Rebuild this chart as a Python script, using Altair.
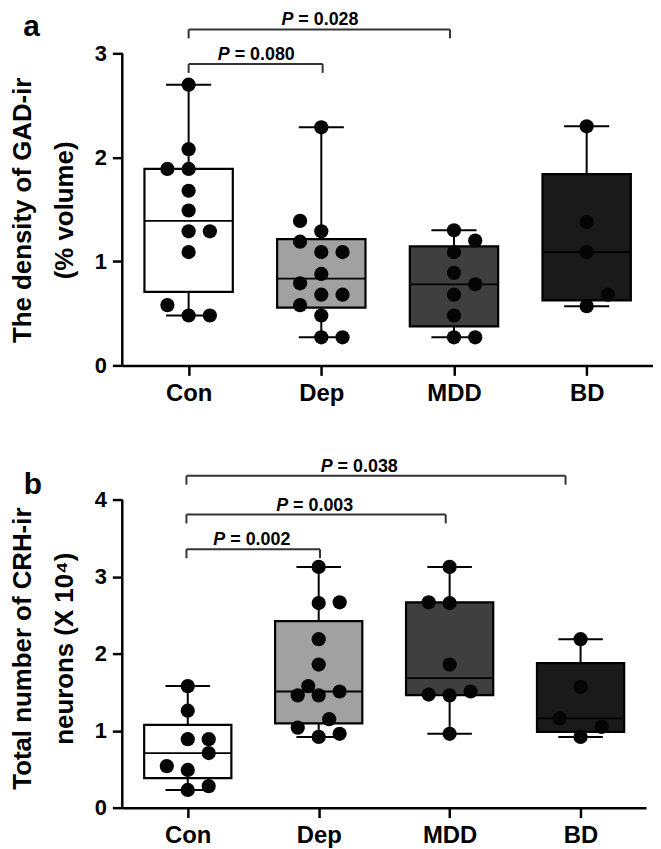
import altair as alt
import numpy as np
import pandas as pd

FONT = "Liberation Sans"

groups = ["Con", "Dep", "MDD", "BD"]
box_fills = ["#ffffff", "#a1a1a1", "#3f3f3f", "#1a1a1a"]

# ---------------- panel a : density of GAD-ir (% volume) ----------------
gad_con = [2.70, 2.08, 1.89, 1.89, 1.68, 1.49, 1.29, 1.29, 1.09, 0.58, 0.48, 0.48]
gad_con_col = [0, 0, -2, 0, 0, 0, 0, 2, 0, -2, 0, 2]
gad_dep = [2.29, 1.39, 1.29, 1.19, 1.09, 1.09, 0.88, 0.79, 0.68, 0.68, 0.58, 0.48, 0.27, 0.27]
gad_dep_col = [0, -2, 0, -2, 0, 2, 0, -2, 0, 2, -2, 0, 0, 2]
gad_mdd = [1.30, 1.20, 1.09, 0.89, 0.78, 0.68, 0.48, 0.27, 0.27]
gad_mdd_col = [0, 2, 0, 0, 2, 0, 0, 0, 2]
gad_bd = [2.30, 1.38, 1.09, 0.68, 0.57]
gad_bd_col = [0, 0, 0, 2, 0]

a_title = ["The density of  GAD-ir", "(% volume)"]
a_ticks = [0, 1, 2, 3]
a_p_labels = ["0.080", "0.028"]
a_p_from = [1.00, 1.00]
a_p_to = [2.01, 2.97]
a_p_level = [2.90, 3.232]
a_p_text_at = [1.51, 1.99]

# ---------------- panel b : CRH-ir neurons (x 10^4) ----------------
crh_con = [1.58, 1.26, 0.89, 0.89, 0.71, 0.54, 0.49, 0.28, 0.23]
crh_con_col = [0, 0, 0, 2, 2, -2, 0, 2, 0]
crh_dep = [3.13, 2.66, 2.67, 2.19, 1.86, 1.58, 1.46, 1.46, 1.51, 1.15, 1.04, 0.92, 0.96]
crh_dep_col = [0, 0, 2, 0, 0, -1, -2, 0, 2, 1, -2, 0, 2]
crh_mdd = [3.13, 2.67, 2.66, 1.86, 1.47, 1.46, 1.51, 0.96]
crh_mdd_col = [0, -2, 0, 0, -2, 0, 2, 0]
crh_bd = [2.19, 1.57, 1.16, 1.05, 0.92]
crh_bd_col = [0, 0, -2, 2, 0]

b_title = ["Total number of CRH-ir", "neurons (X 10\u2074)"]
b_ticks = [0, 1, 2, 3, 4]
b_p_labels = ["0.002", "0.003", "0.038"]
b_p_from = [0.99, 0.99, 0.99]
b_p_to = [2.01, 2.97, 3.885]
b_p_level = [3.359, 3.811, 4.315]
b_p_text_at = [1.49, 1.97, 2.31]


def build_panel(values, columns, ticks, axis_top, dom_top, width, height,
                p_from, p_to, p_level, p_labels, p_text_at,
                letter, letter_x, letter_y, title, title_x, title_y):
    xs = alt.Scale(domain=[0.5, 4.5], nice=False, zero=False)
    ys = alt.Scale(domain=[0, dom_top], nice=False, zero=False)
    label_expr = "[" + ",".join("'%s'" % g for g in groups) + "][datum.value - 1]"
    x_axis = alt.Axis(values=[1, 2, 3, 4], labelExpr=label_expr, title=None, grid=False,
                      domain=True, domainColor="black", domainWidth=2.5,
                      ticks=True, tickSize=10, tickWidth=2.5, tickColor="black",
                      labelFont=FONT, labelFontSize=24, labelFontWeight="bold",
                      labelColor="black", labelPadding=6)
    y_axis = alt.Axis(values=ticks, format="d", title=title, grid=False, domain=False,
                      ticks=True, tickSize=10, tickWidth=2.5, tickColor="black",
                      labelFont=FONT, labelFontSize=22, labelFontWeight="bold",
                      labelColor="black", labelPadding=6,
                      titleFont=FONT, titleFontSize=26, titleFontWeight="bold",
                      titleColor="black", titleAngle=270, titleAlign="center",
                      titleBaseline="top", titleLineHeight=42,
                      titleX=title_x, titleY=title_y)

    def X(f):
        return alt.X(f, type="quantitative", scale=xs, axis=x_axis)

    def Y(f):
        return alt.Y(f, type="quantitative", scale=ys, axis=y_axis)

    rows, prow = [], []
    for i, (g, v, c) in enumerate(zip(groups, values, columns)):
        q1, med, q3 = np.percentile(v, [25, 50, 75], method="weibull")
        rows.append(dict(group=g, pos=i + 1, lo=min(v), q1=q1, med=med, q3=q3, hi=max(v)))
        for val, col in zip(v, c):
            prow.append(dict(group=g, val=val, px=i + 1 + col * 0.08))
    box = pd.DataFrame(rows)
    box["xl"] = box["pos"] - 0.333
    box["xr"] = box["pos"] + 0.333
    box["cl"] = box["pos"] - 0.17
    box["cr"] = box["pos"] + 0.17
    pts = pd.DataFrame(prow)

    br = pd.DataFrame(dict(x1=p_from, x2=p_to, lvl=p_level, tx=p_text_at,
                           lab=["= " + s for s in p_labels]))
    axl = pd.DataFrame(dict(ax=[0.5], y0=[0], y1=[axis_top]))
    let = pd.DataFrame(dict(lx=[letter_x], ly=[letter_y], t=[letter]))

    base = alt.Chart(box)
    whisk = base.mark_rule(color="black", strokeWidth=2).encode(
        x=X("pos"), y=Y("lo"), y2=alt.Y2("hi"))
    cap_lo = base.mark_rule(color="black", strokeWidth=2).encode(
        x=X("cl"), x2=alt.X2("cr"), y=Y("lo"))
    cap_hi = base.mark_rule(color="black", strokeWidth=2).encode(
        x=X("cl"), x2=alt.X2("cr"), y=Y("hi"))
    rect = base.mark_rect(stroke="black", strokeWidth=2.2).encode(
        x=X("xl"), x2=alt.X2("xr"), y=Y("q1"), y2=alt.Y2("q3"),
        fill=alt.Fill("group:N", scale=alt.Scale(domain=groups, range=box_fills), legend=None))
    medl = base.mark_rule(color="black", strokeWidth=1.8).encode(
        x=X("xl"), x2=alt.X2("xr"), y=Y("med"))
    dots = alt.Chart(pts).mark_circle(size=205, color="#050505", opacity=1).encode(
        x=X("px"), y=Y("val"))
    yline = alt.Chart(axl).mark_rule(color="black", strokeWidth=2.5).encode(
        x=X("ax"), y=Y("y0"), y2=alt.Y2("y1"))
    bh = alt.Chart(br).mark_rule(color="#333333", strokeWidth=2).encode(
        x=X("x1"), x2=alt.X2("x2"), y=Y("lvl"))
    bd = alt.Chart(br).transform_fold(["x1", "x2"], as_=["side", "bx"]).mark_rule(
        color="#333333", strokeWidth=2, y2Offset=9).encode(
        x=X("bx"), y=Y("lvl"), y2=alt.Y2("lvl"))
    tp = alt.Chart(br).mark_text(font=FONT, fontSize=18, fontWeight="bold", fontStyle="italic",
                                 align="left", baseline="middle", dx=-38.8, dy=-9,
                                 color="black").encode(x=X("tx"), y=Y("lvl"), text=alt.value("P"))
    tv = alt.Chart(br).mark_text(font=FONT, fontSize=18, fontWeight="bold",
                                 align="left", baseline="middle", dx=-21.8, dy=-9,
                                 color="black").encode(x=X("tx"), y=Y("lvl"), text="lab:N")
    lt = alt.Chart(let).mark_text(font=FONT, fontSize=30, fontWeight="bold",
                                  align="center", baseline="alphabetic",
                                  color="black").encode(x=X("lx"), y=Y("ly"), text="t:N")
    return alt.layer(whisk, cap_lo, cap_hi, rect, medl, dots, yline, bh, bd, tp, tv, lt).properties(
        width=width, height=height)


panel_a = build_panel([gad_con, gad_dep, gad_mdd, gad_bd],
                      [gad_con_col, gad_dep_col, gad_mdd_col, gad_bd_col],
                      a_ticks, 3, 355 / 104.6, 534, 355,
                      a_p_from, a_p_to, a_p_level, a_p_labels, a_p_text_at,
                      "a", -0.185, 3.164, a_title, -113, 198.5)
panel_b = build_panel([crh_con, crh_dep, crh_mdd, crh_bd],
                      [crh_con_col, crh_dep_col, crh_mdd_col, crh_bd_col],
                      b_ticks, 4, 352 / 77.4, 527, 352,
                      b_p_from, b_p_to, b_p_level, b_p_labels, b_p_text_at,
                      "b", -0.183, 4.083, b_title, -113, 191.5)

chart = alt.vconcat(panel_a, panel_b, spacing=53).properties(
    padding={"left": 2, "top": 0, "right": 0, "bottom": 0},
    background="white").configure_view(stroke=None)

chart.save("out.html", embed_options={"renderer": "svg", "actions": False})
